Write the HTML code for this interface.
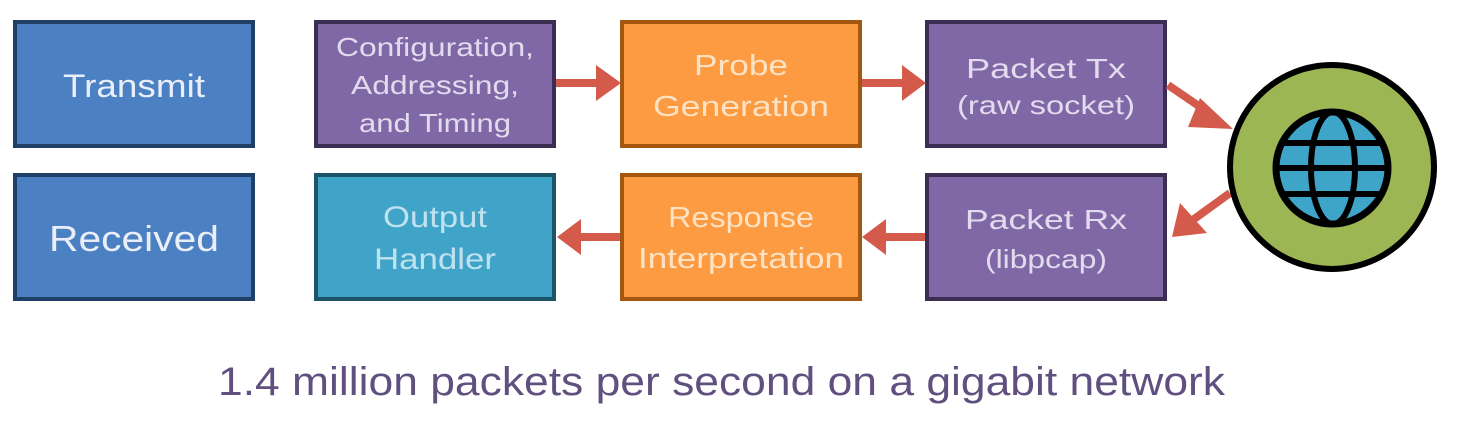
<!DOCTYPE html>
<html><head><meta charset="utf-8"><style>
html,body{margin:0;padding:0;background:#fff;}
svg{display:block;}
text{font-family:"Liberation Sans",sans-serif;}
</style></head><body>
<svg width="1471" height="422" viewBox="0 0 1471 422" xmlns="http://www.w3.org/2000/svg">
<g stroke-width="4">
<rect x="15" y="22" width="238" height="124" fill="#4b80c2" stroke="#203f67"/>
<rect x="15" y="175" width="238" height="124" fill="#4b80c2" stroke="#203f67"/>
<rect x="316" y="22" width="238" height="124" fill="#8067a5" stroke="#3b2e52"/>
<rect x="316" y="175" width="238" height="124" fill="#40a4c9" stroke="#1d5568"/>
<rect x="622" y="22" width="238" height="124" fill="#fc9b42" stroke="#a55710"/>
<rect x="622" y="175" width="238" height="124" fill="#fc9b42" stroke="#a55710"/>
<rect x="927" y="22" width="238" height="124" fill="#8067a5" stroke="#3b2e52"/>
<rect x="927" y="175" width="238" height="124" fill="#8067a5" stroke="#3b2e52"/>
</g>
<g fill="#d45a4c" stroke="#d45a4c">
<line x1="556" y1="83" x2="600" y2="83" stroke-width="8"/>
<polygon points="596,65 621,83 596,101" stroke="none"/>
<line x1="862" y1="83" x2="906" y2="83" stroke-width="8"/>
<polygon points="902,65 926,83 902,101" stroke="none"/>
<line x1="925" y1="237" x2="882" y2="237" stroke-width="8"/>
<polygon points="886,219 862,237 886,255" stroke="none"/>
<line x1="620" y1="237" x2="577" y2="237" stroke-width="8"/>
<polygon points="581,219 557,237 581,255" stroke="none"/>
<line x1="1168" y1="85" x2="1212" y2="115" stroke-width="8"/>
<polygon points="1200,98 1233,129 1188,127" stroke="none"/>
<line x1="1230" y1="193" x2="1190" y2="222" stroke-width="8"/>
<polygon points="1180,203 1172,237 1207,233" stroke="none"/>
</g>
<circle cx="1332" cy="167" r="102" fill="#9cb654" stroke="#000" stroke-width="6"/>
<circle cx="1332" cy="168" r="56" fill="#3ea5c9" stroke="#000" stroke-width="7"/>
<g stroke="#000" stroke-width="6" fill="none">
<ellipse cx="1333" cy="168" rx="22" ry="56"/>
<line x1="1276" y1="168" x2="1388" y2="168"/>
<line x1="1282" y1="143" x2="1382" y2="143"/>
<line x1="1282" y1="194" x2="1382" y2="194"/>
</g>
<g font-size="32" fill="#e9eef8" text-anchor="middle">
<text x="134" y="97" textLength="142" lengthAdjust="spacingAndGlyphs">Transmit</text>
<text x="134" y="251" font-size="36" textLength="170" lengthAdjust="spacingAndGlyphs">Received</text>
</g>
<g font-size="26" fill="#e2dbee" text-anchor="middle">
<text x="435" y="56" textLength="198" lengthAdjust="spacingAndGlyphs">Configuration,</text>
<text x="435" y="94" textLength="168" lengthAdjust="spacingAndGlyphs">Addressing,</text>
<text x="435" y="132" textLength="152" lengthAdjust="spacingAndGlyphs">and Timing</text>
<text x="1046" y="78" font-size="28" textLength="160" lengthAdjust="spacingAndGlyphs">Packet Tx</text>
<text x="1046" y="114" textLength="178" lengthAdjust="spacingAndGlyphs">(raw socket)</text>
<text x="1046" y="229" font-size="28" textLength="162" lengthAdjust="spacingAndGlyphs">Packet Rx</text>
<text x="1046" y="268" textLength="122" lengthAdjust="spacingAndGlyphs">(libpcap)</text>
</g>
<g font-size="29" fill="#fde2c4" text-anchor="middle">
<text x="741" y="75" textLength="94" lengthAdjust="spacingAndGlyphs">Probe</text>
<text x="741" y="116" textLength="176" lengthAdjust="spacingAndGlyphs">Generation</text>
<text x="741" y="227" textLength="146" lengthAdjust="spacingAndGlyphs">Response</text>
<text x="741" y="268" textLength="206" lengthAdjust="spacingAndGlyphs">Interpretation</text>
</g>
<g font-size="30" fill="#bfe2ef" text-anchor="middle">
<text x="435" y="227" textLength="104" lengthAdjust="spacingAndGlyphs">Output</text>
<text x="435" y="269" textLength="122" lengthAdjust="spacingAndGlyphs">Handler</text>
</g>
<text x="218" y="395" font-size="40" fill="#5f5080" textLength="1007" lengthAdjust="spacingAndGlyphs">1.4 million packets per second on a gigabit network</text>
</svg>
</body></html>
